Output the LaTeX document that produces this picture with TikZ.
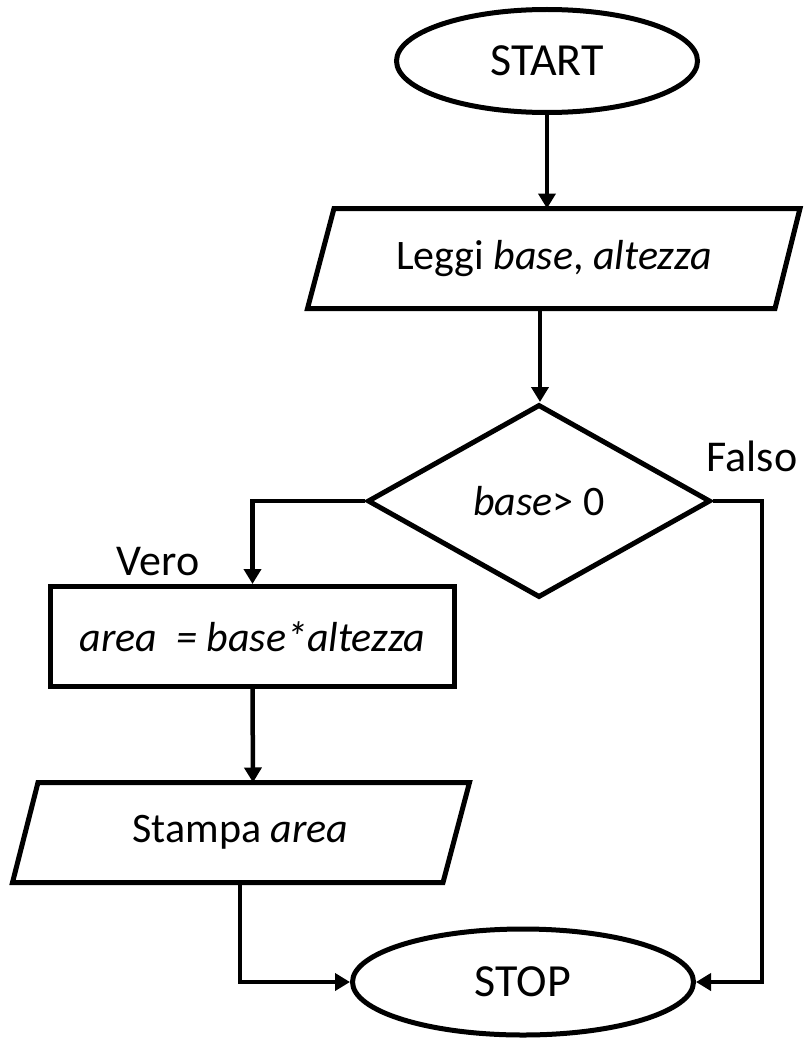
\documentclass[tikz,border=0pt]{standalone}
\usepackage{fontspec}
\setmainfont{Carlito}
\usetikzlibrary{shapes.geometric,arrows.meta}
\begin{document}
\begin{tikzpicture}[x=1pt,y=-1pt,
  line width=5pt,
  txt/.style={font=\fontsize{42}{50}\selectfont, inner sep=0pt},
  lbl/.style={font=\fontsize{44}{52}\selectfont, inner sep=0pt},
  term/.style={draw,ellipse,inner sep=0pt,font=\fontsize{46}{54}\selectfont},
  decision/.style={draw,diamond,inner sep=0pt,font=\fontsize{42}{50}\selectfont},
  procbox/.style={draw,rectangle,inner sep=0pt,font=\fontsize{42}{50}\selectfont},
  arr/.style={-{Triangle[length=15pt,width=17pt]},line width=4.5pt},
  conn/.style={line width=4.5pt}
]
\useasboundingbox (0,0) rectangle (804,1038);
% START
\node[term,minimum width=301pt,minimum height=103pt] (start) at (547,61) {START};
% input parallelogram
\coordinate (p1a) at (334,208.5);
\coordinate (p1b) at (800,208.5);
\coordinate (p1c) at (775,308.5);
\coordinate (p1d) at (307.5,308.5);
\draw[line join=miter] (p1a) -- (p1b) -- (p1c) -- (p1d) -- cycle;
\node[txt] (read) at (554,259) {Leggi \textit{base}, \textit{altezza}};
\coordinate (p1n) at (547,208.5);
\coordinate (p1s) at (540,308.5);
% decision
\node[decision,minimum width=343pt,minimum height=193pt] (dec) at (539,501) {\textit{base}> 0};
% process
\node[procbox,minimum width=404pt,minimum height=100pt] (proc) at (252.5,636.5) {\textit{area~~= base*altezza}};
% output parallelogram
\coordinate (p2a) at (38,782.5);
\coordinate (p2b) at (469.5,782.5);
\coordinate (p2c) at (443,882.5);
\coordinate (p2d) at (12.5,882.5);
\draw[line join=miter] (p2a) -- (p2b) -- (p2c) -- (p2d) -- cycle;
\node[txt] (print) at (240.5,832) {Stampa \textit{area}};
\coordinate (p2n) at (253,782.5);
\coordinate (p2s) at (240,882.5);
% STOP
\node[term,minimum width=341pt,minimum height=106pt] (stop) at (523,982) {STOP};
% labels
\node[lbl] (vero) at (158,562) {Vero};
\node[lbl] (falso) at (752,456) {Falso};
% connectors
\coordinate (fr) at (762,501);
\draw[arr] (start.south) -- (p1n);
\draw[arr] (p1s) -- (p1s |- dec.north);
\draw[arr] (dec.west) -| (proc.north);
\draw[arr] (proc.south) -- (p2n);
\draw[arr,line join=miter] (p2s) |- (stop.west);
\draw[arr,line join=miter] (dec.east) -- (fr) |- (stop.east);
\end{tikzpicture}
\end{document}
